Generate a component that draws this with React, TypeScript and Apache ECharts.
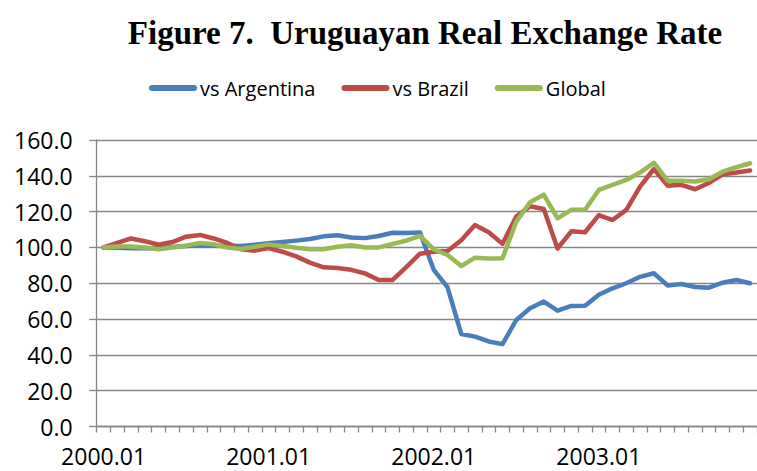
import React, { useEffect, useRef } from "react";
import * as echarts from "echarts";

const categories: string[] = [
  "2000.01", "2000.02", "2000.03", "2000.04", "2000.05", "2000.06", "2000.07", "2000.08", "2000.09", "2000.10", "2000.11", "2000.12",
  "2001.01", "2001.02", "2001.03", "2001.04", "2001.05", "2001.06", "2001.07", "2001.08", "2001.09", "2001.10", "2001.11", "2001.12",
  "2002.01", "2002.02", "2002.03", "2002.04", "2002.05", "2002.06", "2002.07", "2002.08", "2002.09", "2002.10", "2002.11", "2002.12",
  "2003.01", "2003.02", "2003.03", "2003.04", "2003.05", "2003.06", "2003.07", "2003.08", "2003.09", "2003.10", "2003.11", "2003.12",
];

const vsArgentina: number[] = [
  100, 99.8, 99.6, 99.5, 99.6, 100.2, 100.8, 101.2, 101, 101, 100.8, 101.5,
  102.3, 103, 103.8, 104.7, 106.2, 106.8, 105.6, 105.2, 106.4, 108.2, 108, 108.3,
  87.5, 77.8, 51.7, 50.2, 47.5, 46, 59.5, 66, 69.8, 64.7, 67.3, 67.4,
  73.6, 77.2, 80, 83.6, 85.6, 78.8, 79.6, 77.9, 77.5, 80.3, 81.8, 80,
];

const vsBrazil: number[] = [
  100, 102.5, 105, 103.5, 101.5, 103, 106, 107, 105, 102.5, 99, 98.2,
  99.6, 97.6, 95, 91.5, 88.9, 88.5, 87.5, 85.5, 81.8, 81.8, 89, 96.5,
  97.6, 98, 104, 112.5, 108.5, 102, 117.2, 123, 121.5, 99.4, 109, 108.5,
  118, 115.3, 121, 134, 143.8, 134.5, 135, 132.5, 136, 140.8, 141.8, 143,
];

const globalRate: number[] = [
  100, 100.5, 100.5, 100, 99, 100, 101, 102.5, 101.8, 100, 99.1, 100.4,
  101.7, 100.8, 99.8, 99, 99, 100.4, 101.2, 100, 100, 101.9, 103.8, 106.4,
  99, 95.8, 89.6, 94.3, 93.8, 94, 114.4, 125.2, 129.5, 116.3, 121, 121,
  132.1, 134.9, 137.7, 141.8, 147.3, 137.3, 137.3, 136.8, 138.1, 142.3, 144.8, 147,
];

const seriesNames = ["vs Argentina", "vs Brazil", "Global"];
const seriesColors = ["#4A7EBB", "#BE4B48", "#98B954"];

const App: React.FC = () => {
  const ref = useRef<HTMLDivElement>(null);

  useEffect(() => {
    if (!ref.current) return;
    const chart = echarts.init(ref.current, undefined, { renderer: "svg" });
    const font = "'Open Sans', 'Noto Sans', sans-serif";
    const gridColor = "#878787";
    const data = [vsArgentina, vsBrazil, globalRate];

    chart.setOption({
      animation: false,
      backgroundColor: "#ffffff",
      graphic: [
        {
          type: "text",
          x: 425,
          y: 33,
          style: {
            text: "Figure 7.  Uruguayan Real Exchange Rate",
            fontFamily: "'Liberation Serif', 'Times New Roman', serif",
            fontWeight: "bold",
            fontSize: 33,
            fill: "#000",
            textAlign: "center",
            textVerticalAlign: "middle",
          },
        },
      ],
      legend: {
        left: 144,
        top: 73,
        itemWidth: 48,
        itemHeight: 6,
        itemGap: 26,
        icon: "path://M3,0 L45,0 A3,3 0 0 1 45,6 L3,6 A3,3 0 0 1 3,0 Z",
        textStyle: { fontFamily: font, fontSize: 20, color: "#000", padding: [0, 0, 0, -2] },
        data: seriesNames,
      },
      grid: {
        left: 96.7,
        top: 140,
        right: -5.6,
        bottom: 44.5,
        containLabel: false,
      },
      xAxis: {
        type: "category",
        data: categories,
        boundaryGap: true,
        axisLine: { show: true, lineStyle: { color: gridColor, width: 1.3 } },
        axisTick: { show: true, interval: 0, length: 6, lineStyle: { color: gridColor, width: 1.3 } },
        axisLabel: {
          interval: 11,
          margin: 18,
          fontFamily: font,
          fontSize: 23,
          color: "#000",
        },
        splitLine: { show: false },
      },
      yAxis: {
        type: "value",
        min: 0,
        max: 160,
        interval: 20,
        axisLine: { show: true, lineStyle: { color: gridColor, width: 1.3 } },
        axisTick: { show: true, length: 7.5, lineStyle: { color: gridColor, width: 1.3 } },
        axisLabel: {
          margin: 24,
          fontFamily: font,
          fontSize: 23,
          color: "#000",
          formatter: (v: number) => v.toFixed(1),
        },
        splitLine: { show: true, lineStyle: { color: gridColor, width: 1.3 } },
      },
      series: seriesNames.map((name, i) => ({
        name,
        type: "line",
        data: data[i],
        symbol: "none",
        smooth: false,
        color: seriesColors[i],
        lineStyle: { color: seriesColors[i], width: 4.5, cap: "round", join: "round" },
        z: 2 + i,
      })),
    });

    return () => chart.dispose();
  }, []);

  return (
    <div
      ref={ref}
      style={{ position: "fixed", left: 0, top: 0, width: 757, height: 471 }}
    />
  );
};

export default App;
